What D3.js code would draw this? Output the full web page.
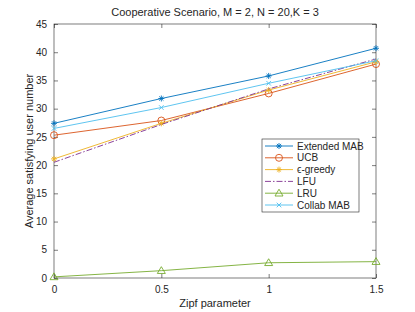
<!DOCTYPE html>
<html>
<head>
<meta charset="utf-8">
<script src="https://cdn.jsdelivr.net/npm/d3@7"></script>
<style>
  body { margin: 0; background: #fff; }
  text { font-family: "Liberation Sans", Arial, sans-serif; fill: #262626; }
</style>
</head>
<body>
<div id="chart"></div>
<script>
// data
const zipf = [0, 0.5, 1, 1.5];
const extendedMab = [27.4, 31.8, 35.8, 40.7];
const ucb = [25.3, 27.9, 32.7, 37.9];
const epsGreedy = [21.1, 27.4, 33.3, 38.3];
const lfu = [20.5, 27.2, 33.5, 38.8];
const lru = [0.2, 1.3, 2.7, 2.9];
const collabMab = [26.5, 30.2, 34.5, 38.5];
const xTicks = [0, 0.5, 1, 1.5];
const yTicks = [0, 5, 10, 15, 20, 25, 30, 35, 40, 45];

const series = [
  { name: "Extended MAB", values: extendedMab, color: "#0072BD", marker: "star" },
  { name: "UCB", values: ucb, color: "#D95319", marker: "circle" },
  { name: "ϵ-greedy", values: epsGreedy, color: "#EDB120", marker: "star" },
  { name: "LFU", values: lfu, color: "#7E2F8E", marker: null, dash: "6,2,1.5,2" },
  { name: "LRU", values: lru, color: "#77AC30", marker: "triangle" },
  { name: "Collab MAB", values: collabMab, color: "#4DBEEE", marker: "cross" }
];

const width = 415, height = 312;
const margin = { top: 24, right: 39, bottom: 34, left: 54 };
const innerW = width - margin.left - margin.right;
const innerH = height - margin.top - margin.bottom;

const svg = d3.select("#chart").append("svg")
  .attr("width", width).attr("height", height);

const x = d3.scaleLinear().domain([0, 1.5]).range([margin.left, margin.left + innerW]);
const y = d3.scaleLinear().domain([0, 45]).range([margin.top + innerH, margin.top]);

const axisColor = "#262626";
const tick = 4;

// axes box + ticks
const axes = svg.append("g");
axes.append("rect")
  .attr("x", x(0)).attr("y", y(45))
  .attr("width", innerW).attr("height", innerH)
  .attr("fill", "none").attr("stroke", axisColor).attr("stroke-width", 0.6);

const xAxis = d3.axisBottom(x).tickValues(xTicks).tickSize(-tick).tickPadding(8)
  .tickFormat(d => d3.format("")(d));
const xAxisTop = d3.axisTop(x).tickValues(xTicks).tickSize(-tick).tickFormat("");
const yAxis = d3.axisLeft(y).tickValues(yTicks).tickSize(-tick).tickPadding(7);
const yAxisRight = d3.axisRight(y).tickValues(yTicks).tickSize(-tick).tickFormat("");

function styleAxis(g) {
  g.select(".domain").remove();
  g.selectAll("line").attr("stroke", axisColor).attr("stroke-width", 0.6);
  g.selectAll("text").style("font-size", "10px").attr("fill", axisColor);
}

axes.append("g").attr("transform", `translate(0,${y(0)})`).call(xAxis).call(styleAxis);
axes.append("g").attr("transform", `translate(0,${y(45)})`).call(xAxisTop).call(styleAxis);
axes.append("g").attr("transform", `translate(${x(0)},0)`).call(yAxis).call(styleAxis);
axes.append("g").attr("transform", `translate(${x(1.5)},0)`).call(yAxisRight).call(styleAxis);

// labels
svg.append("text")
  .attr("x", (x(0) + x(1.5)) / 2).attr("y", 16)
  .attr("text-anchor", "middle").style("font-size", "11px")
  .text("Cooperative Scenario, M = 2, N = 20,K = 3");

svg.append("text")
  .attr("x", (x(0) + x(1.5)) / 2).attr("y", 307)
  .attr("text-anchor", "middle").style("font-size", "11px")
  .text("Zipf parameter");

svg.append("text")
  .attr("transform", `translate(33,${(y(0) + y(45)) / 2}) rotate(-90)`)
  .attr("text-anchor", "middle").style("font-size", "11px")
  .text("Average satisfying user number");

// markers
function drawMarker(g, type, cx, cy, color) {
  if (type === "star") {
    const r = 3;
    [[-r, 0, r, 0], [0, -r, 0, r], [-r * 0.7, -r * 0.7, r * 0.7, r * 0.7], [-r * 0.7, r * 0.7, r * 0.7, -r * 0.7]]
      .forEach(s => g.append("line")
        .attr("x1", cx + s[0]).attr("y1", cy + s[1]).attr("x2", cx + s[2]).attr("y2", cy + s[3])
        .attr("stroke", color).attr("stroke-width", 0.9));
  } else if (type === "cross") {
    const r = 2.3;
    [[-r, -r, r, r], [-r, r, r, -r]]
      .forEach(s => g.append("line")
        .attr("x1", cx + s[0]).attr("y1", cy + s[1]).attr("x2", cx + s[2]).attr("y2", cy + s[3])
        .attr("stroke", color).attr("stroke-width", 0.9));
  } else if (type === "circle") {
    g.append("circle").attr("cx", cx).attr("cy", cy).attr("r", 3.5)
      .attr("fill", "none").attr("stroke", color).attr("stroke-width", 0.9);
  } else if (type === "triangle") {
    const r = 4;
    g.append("path")
      .attr("d", `M${cx},${cy - r}L${cx + r},${cy + r * 0.7}L${cx - r},${cy + r * 0.7}Z`)
      .attr("fill", "none").attr("stroke", color).attr("stroke-width", 0.9);
  }
}

const line = d3.line().x((d, i) => x(zipf[i])).y(d => y(d));
const plot = svg.append("g");

series.forEach(s => {
  plot.append("path")
    .datum(s.values)
    .attr("d", line)
    .attr("fill", "none")
    .attr("stroke", s.color)
    .attr("stroke-width", 0.9)
    .attr("stroke-dasharray", s.dash || null);
  if (s.marker) {
    s.values.forEach((v, i) => drawMarker(plot, s.marker, x(zipf[i]), y(v), s.color));
  }
});

// legend
const lg = svg.append("g");
const lx = 262, ly = 139, lw = 97, lh = 73;
lg.append("rect")
  .attr("x", lx).attr("y", ly).attr("width", lw).attr("height", lh)
  .attr("fill", "#fff").attr("stroke", "#262626").attr("stroke-width", 0.6);

series.forEach((s, i) => {
  const yy = ly + 7 + i * 11.8;
  lg.append("line")
    .attr("x1", lx + 3).attr("x2", lx + 31).attr("y1", yy).attr("y2", yy)
    .attr("stroke", s.color).attr("stroke-width", 0.9)
    .attr("stroke-dasharray", s.dash || null);
  if (s.marker) drawMarker(lg, s.marker, lx + 17, yy, s.color);
  lg.append("text")
    .attr("x", lx + 35).attr("y", yy + 3.5)
    .style("font-size", "10px")
    .text(s.name);
});
</script>
</body>
</html>
